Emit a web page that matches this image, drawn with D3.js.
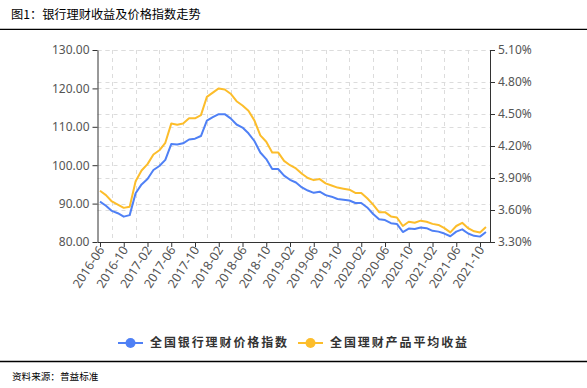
<!DOCTYPE html>
<meta charset="utf-8">
<script src="https://d3js.org/d3.v7.min.js"></script>
<style>
  body { margin: 0; background: #fff; }
  text { font-family: "Noto Sans", sans-serif; }
</style>
<div id="chart"></div>
<script>

// monthly categories
var months = ["2016-06","2016-07","2016-08","2016-09","2016-10","2016-11","2016-12",
  "2017-01","2017-02","2017-03","2017-04","2017-05","2017-06","2017-07","2017-08","2017-09","2017-10","2017-11","2017-12",
  "2018-01","2018-02","2018-03","2018-04","2018-05","2018-06","2018-07","2018-08","2018-09","2018-10","2018-11","2018-12",
  "2019-01","2019-02","2019-03","2019-04","2019-05","2019-06","2019-07","2019-08","2019-09","2019-10","2019-11","2019-12",
  "2020-01","2020-02","2020-03","2020-04","2020-05","2020-06","2020-07","2020-08","2020-09","2020-10","2020-11","2020-12",
  "2021-01","2021-02","2021-03","2021-04","2021-05","2021-06","2021-07","2021-08","2021-09","2021-10","2021-11"];

// 全国银行理财价格指数 (left axis)
var priceIndex = [90.5, 89.45, 88.1, 87.5, 86.6, 87.0, 92.7, 95.0, 96.4, 98.75, 99.8, 101.4,
  105.5, 105.4, 105.7, 106.7, 106.9, 107.6, 111.6, 112.5, 113.3, 113.3, 112.2, 110.6,
  109.8, 108.3, 106.3, 103.3, 101.6, 99.0, 99.0, 97.3, 96.2, 95.5, 94.2, 93.4,
  92.8, 93.1, 92.2, 91.8, 91.2, 91.0, 90.8, 90.15, 90.15, 89.0, 87.3, 85.9,
  85.7, 84.9, 84.7, 82.6, 83.5, 83.4, 83.8, 83.6, 82.9, 82.7, 82.2, 81.5,
  82.7, 83.3, 82.2, 81.6, 81.4, 82.6];

// 全国理财产品平均收益 (right axis, %)
var avgYield = [3.78, 3.74, 3.68, 3.65, 3.62, 3.63, 3.87, 3.97, 4.03, 4.12, 4.16, 4.23,
  4.41, 4.40, 4.41, 4.46, 4.46, 4.49, 4.66, 4.70, 4.74, 4.73, 4.69, 4.62,
  4.58, 4.53, 4.44, 4.30, 4.24, 4.14, 4.14, 4.06, 4.02, 3.99, 3.94, 3.90,
  3.88, 3.89, 3.85, 3.83, 3.81, 3.80, 3.79, 3.76, 3.76, 3.71, 3.65, 3.58,
  3.58, 3.54, 3.53, 3.45, 3.49, 3.48, 3.50, 3.49, 3.47, 3.46, 3.43, 3.39,
  3.45, 3.48, 3.43, 3.40, 3.39, 3.44];

// tick labels
var xTickLabels = ["2016-06","2016-10","2017-02","2017-06","2017-10","2018-02","2018-06","2018-10",
  "2019-02","2019-06","2019-10","2020-02","2020-06","2020-10","2021-02","2021-06","2021-10"];
var leftTicks = [80, 90, 100, 110, 120, 130];
var rightTicks = [3.30, 3.60, 3.90, 4.20, 4.50, 4.80, 5.10];

var seriesNames = ["全国银行理财价格指数", "全国理财产品平均收益"];
var colors = ["#4f80f5", "#fcbd2b"];

var W = 587, H = 388;
var plot = {left: 97.5, right: 490, top: 50, bottom: 242};

var svg = d3.select("#chart").append("svg")
  .attr("width", W).attr("height", H);

// title + rules
svg.append("text").attr("x", 11).attr("y", 19)
  .style("font-family", "'Noto Sans CJK SC', sans-serif")
  .style("font-size", "12.2px").attr("fill", "#000")
  .text("图1：银行理财收益及价格指数走势");
svg.append("line").attr("x1", 0).attr("x2", W).attr("y1", 29.3).attr("y2", 29.3)
  .attr("stroke", "#000").attr("stroke-width", 1.3);
svg.append("line").attr("x1", 0).attr("x2", W).attr("y1", 361.5).attr("y2", 361.5)
  .attr("stroke", "#000").attr("stroke-width", 1.3);
svg.append("text").attr("x", 12).attr("y", 380)
  .style("font-family", "'Noto Sans CJK SC', sans-serif")
  .style("font-size", "9.6px").attr("fill", "#000")
  .text("资料来源：普益标准");

// scales
var x = d3.scaleLinear().domain([-0.42, 65.68]).range([plot.left, plot.right]);
var yL = d3.scaleLinear().domain([80, 130]).range([plot.bottom, plot.top]);
var yR = d3.scaleLinear().domain([3.30, 5.10]).range([plot.bottom, plot.top]);

// grid
var grid = svg.append("g").attr("stroke", "#dcdcdc").attr("stroke-dasharray", "4,4");
leftTicks.forEach(function(v) {
  grid.append("line").attr("x1", plot.left).attr("x2", plot.right)
    .attr("y1", Math.round(yL(v)) + 0.5).attr("y2", Math.round(yL(v)) + 0.5);
});
rightTicks.forEach(function(v) {
  grid.append("line").attr("x1", plot.left).attr("x2", plot.right)
    .attr("y1", Math.round(yR(v)) + 0.5).attr("y2", Math.round(yR(v)) + 0.5);
});
for (var i = 2; i < months.length; i += 4) {
  grid.append("line").attr("y1", plot.top).attr("y2", plot.bottom)
    .attr("x1", Math.round(x(i)) + 0.5).attr("x2", Math.round(x(i)) + 0.5);
}

// axes
var xAxis = svg.append("g")
  .attr("transform", "translate(0," + plot.bottom + ")")
  .call(d3.axisBottom(x)
    .tickValues(xTickLabels.map(function(l) { return months.indexOf(l); }))
    .tickFormat(function(d) { return months[d]; })
    .tickSize(5).tickSizeOuter(0));
xAxis.selectAll("text")
  .attr("text-anchor", "end")
  .attr("transform", "translate(3,2) rotate(-57)")
  .attr("dy", "0.35em").attr("y", 0).attr("x", -4)
  .style("font-size", "12.5px").attr("fill", "#555");

var leftAxis = svg.append("g")
  .attr("transform", "translate(" + plot.left + ",0)")
  .call(d3.axisLeft(yL).tickValues(leftTicks)
    .tickFormat(d3.format(".2f")).tickSize(5).tickSizeOuter(0).tickPadding(3));
leftAxis.selectAll("text").style("font-size", "12px").attr("fill", "#555");

var rightAxis = svg.append("g")
  .attr("transform", "translate(" + plot.right + ",0)")
  .call(d3.axisRight(yR).tickValues(rightTicks)
    .tickFormat(function(d) { return d.toFixed(2) + "%"; })
    .tickSize(5).tickSizeOuter(0).tickPadding(3));
rightAxis.selectAll("text").style("font-size", "12px").attr("fill", "#555");

svg.selectAll(".domain, .tick line").attr("stroke", "#333");

// lines
var lineL = d3.line().x(function(d, i) { return x(i); }).y(function(d) { return yL(d); });
var lineR = d3.line().x(function(d, i) { return x(i); }).y(function(d) { return yR(d); });

svg.append("path").datum(avgYield)
  .attr("fill", "none").attr("stroke", colors[1]).attr("stroke-width", 2)
  .attr("stroke-linejoin", "round").attr("d", lineR);
svg.append("path").datum(priceIndex)
  .attr("fill", "none").attr("stroke", colors[0]).attr("stroke-width", 2)
  .attr("stroke-linejoin", "round").attr("d", lineL);

// legend
var legendX = [118, 298];
seriesNames.forEach(function(name, k) {
  var g = svg.append("g").attr("transform", "translate(" + legendX[k] + ",343)");
  g.append("line").attr("x1", 0).attr("x2", 25).attr("stroke", colors[k]).attr("stroke-width", 2);
  g.append("circle").attr("cx", 12.5).attr("r", 5).attr("fill", colors[k]);
  g.append("text").attr("x", 32).attr("dy", "0.35em")
    .style("font-family", "'Noto Sans CJK SC', sans-serif")
    .style("font-size", "12px").style("font-weight", "bold")
    .style("letter-spacing", "1.9px").attr("fill", "#333")
    .text(name);
});

</script>
